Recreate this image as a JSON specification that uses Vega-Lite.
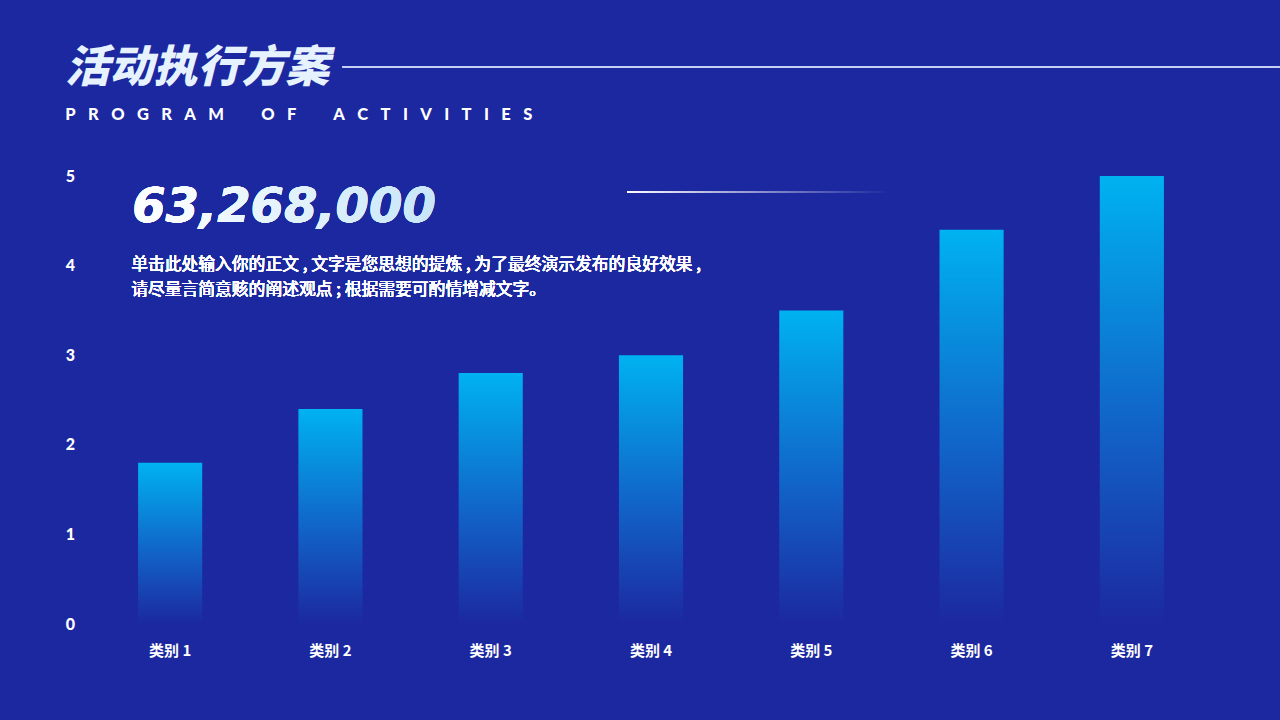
{
  "$schema": "https://vega.github.io/schema/vega-lite/v6.json",
  "width": 1122,
  "height": 448,
  "autosize": {"type": "none"},
  "padding": {"left": 90, "top": 176, "right": 68, "bottom": 96},
  "background": "#1c28a0",
  "config": {"view": {"stroke": null}},
  "title": {
    "text": "活动执行方案",
    "subtitle": "P\u2003R\u2003O\u2003G\u2003R\u2003A\u2003M\u2003\u2003\u2003O\u2003F\u2003\u2003\u2003A\u2003C\u2003T\u2003I\u2003V\u2003I\u2003T\u2003I\u2003E\u2003S",
    "anchor": "start",
    "frame": "bounds",
    "font": "Noto Sans CJK SC",
    "fontSize": 44,
    "fontWeight": 900,
    "fontStyle": "italic",
    "color": "#e6f3ff",
    "subtitleFont": "Lato",
    "subtitleFontSize": 16.5,
    "subtitleFontWeight": 900,
    "subtitleColor": "#ffffff",
    "subtitlePadding": 16,
    "offset": -57
  },
  "data": {
    "values": [
      {"category": "类别 1", "value": 1.8},
      {"category": "类别 2", "value": 2.4},
      {"category": "类别 3", "value": 2.8},
      {"category": "类别 4", "value": 3.0},
      {"category": "类别 5", "value": 3.5},
      {"category": "类别 6", "value": 4.4},
      {"category": "类别 7", "value": 5.0}
    ]
  },
  "layer": [
    {
      "mark": {
        "type": "bar",
        "color": {
          "gradient": "linear",
          "x1": 0, "y1": 0, "x2": 0, "y2": 1,
          "stops": [
            {"offset": 0, "color": "#00b2f0"},
            {"offset": 0.55, "color": "#1164c8"},
            {"offset": 1, "color": "#1c28a0"}
          ]
        }
      },
      "encoding": {
        "x": {
          "field": "category",
          "type": "nominal",
          "sort": null,
          "scale": {"paddingInner": 0.6, "paddingOuter": 0.3},
          "axis": {
            "title": null,
            "labelAngle": 0,
            "domain": false,
            "ticks": false,
            "tickSize": 0,
            "labelPadding": 26,
            "labelBaseline": "middle",
            "labelColor": "#ffffff",
            "labelFont": "Noto Sans CJK SC",
            "labelFontWeight": 700,
            "labelFontSize": 15
          }
        },
        "y": {
          "field": "value",
          "type": "quantitative",
          "scale": {"domain": [0, 5], "nice": false},
          "axis": {
            "title": null,
            "values": [0, 1, 2, 3, 4, 5],
            "format": "d",
            "grid": false,
            "domain": false,
            "ticks": false,
            "tickSize": 0,
            "labelPadding": 20,
            "labelAlign": "center",
            "labelBaseline": "middle",
            "labelColor": "#ffffff",
            "labelFont": "Lato",
            "labelFontWeight": 900,
            "labelFontSize": 16
          }
        }
      }
    },
    {
      "mark": {
        "type": "text",
        "text": "63,268,000",
        "align": "left",
        "baseline": "middle",
        "dx": -38,
        "font": "DejaVu Sans",
        "fontSize": 48,
        "fontWeight": "bold",
        "fontStyle": "italic",
        "fill": {
          "gradient": "linear",
          "x1": 0, "y1": 0, "x2": 1, "y2": 0,
          "stops": [
            {"offset": 0, "color": "#ffffff"},
            {"offset": 1, "color": "#c8e6f8"}
          ]
        }
      },
      "encoding": {
        "x": {"datum": "类别 1", "type": "nominal"},
        "y": {"datum": 4.64, "type": "quantitative"}
      }
    },
    {
      "mark": {
        "type": "text",
        "text": ["单击此处输入你的正文 , 文字是您思想的提炼 , 为了最终演示发布的良好效果 ,", "请尽量言简意赅的阐述观点 ; 根据需要可酌情增减文字。"],
        "align": "left",
        "baseline": "middle",
        "lineHeight": 25,
        "dx": -39,
        "font": "Noto Sans CJK SC",
        "fontSize": 16.8,
        "fontWeight": 400,
        "fill": "#ffffff"
      },
      "encoding": {
        "x": {"datum": "类别 1", "type": "nominal"},
        "y": {"datum": 4.007, "type": "quantitative"}
      }
    },
    {
      "mark": {"type": "rule", "stroke": "#c8d0f4", "strokeWidth": 1, "xOffset": 44, "x2Offset": 148},
      "encoding": {
        "x": {"datum": "类别 2", "type": "nominal", "bandPosition": 0},
        "x2": {"datum": "类别 7"},
        "y": {"datum": 6.217, "type": "quantitative"}
      }
    },
    {
      "mark": {
        "type": "rect",
        "xOffset": -24,
        "x2Offset": -81,
        "fill": {
          "gradient": "linear",
          "x1": 0, "y1": 0, "x2": 1, "y2": 0,
          "stops": [
            {"offset": 0, "color": "#ffffff"},
            {"offset": 1, "color": "#1c28a0"}
          ]
        }
      },
      "encoding": {
        "x": {"datum": "类别 4", "type": "nominal"},
        "x2": {"datum": "类别 6"},
        "y": {"datum": 4.826, "type": "quantitative"},
        "y2": {"datum": 4.815}
      }
    }
  ]
}
